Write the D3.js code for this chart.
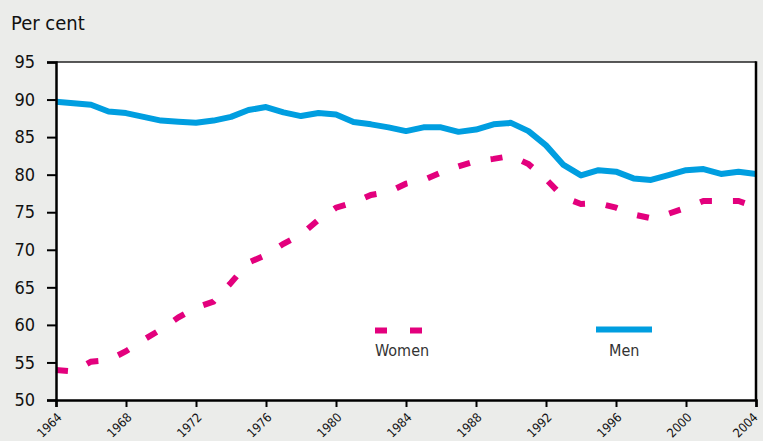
<!DOCTYPE html>
<html>
<head>
<meta charset="utf-8">
<script src="https://cdn.jsdelivr.net/npm/d3@7"></script>
<style>
  html, body { margin: 0; padding: 0; background: #ebecea; }
  svg { display: block; }
  text { font-family: "DejaVu Sans Condensed", "Roboto", sans-serif; }
</style>
</head>
<body>
<svg id="chart" width="763" height="441"></svg>
<script>
const years = d3.range(1964, 2005);
const men = [89.7, 89.5, 89.3, 88.4, 88.2, 87.7, 87.2, 87.05, 86.9, 87.2,
             87.7, 88.6, 89.0, 88.3, 87.8, 88.2, 88.0, 87.0, 86.7, 86.3,
             85.8, 86.3, 86.3, 85.7, 86.0, 86.7, 86.9, 85.8, 83.9, 81.3,
             79.9, 80.6, 80.4, 79.5, 79.3, 79.95, 80.6, 80.75, 80.1, 80.4, 80.1];
const women = [54.0, 53.8, 55.1, 55.3, 56.5, 58.0, 59.4, 61.0, 62.3, 63.1,
               65.6, 68.3, 69.3, 70.8, 72.0, 74.0, 75.6, 76.3, 77.3, 77.7,
               78.8, 79.3, 80.3, 81.1, 81.8, 82.1, 82.5, 81.4, 79.4, 77.0,
               76.1, 76.2, 75.6, 74.7, 74.2, 74.8, 75.6, 76.5, 76.5, 76.5, 75.7];
const yTicks = [50, 55, 60, 65, 70, 75, 80, 85, 90, 95];
const xTicks = [1964, 1968, 1972, 1976, 1980, 1984, 1988, 1992, 1996, 2000, 2004];
const seriesNames = ["Women", "Men"];
const colors = { Women: "#e3007d", Men: "#009ee0" };

const svg = d3.select("#chart");
const pLeft = 56, pRight = 756, pTop = 62, pBottom = 400;

const x = d3.scaleLinear().domain([1964, 2004]).range([pLeft, pRight]);
const y = d3.scaleLinear().domain([50, 95]).range([pBottom, pTop]);

// plot background
svg.append("rect").attr("x", pLeft).attr("y", pTop)
  .attr("width", pRight - pLeft).attr("height", pBottom - pTop).attr("fill", "#ffffff");

// title
svg.append("text").attr("x", 11).attr("y", 30)
  .attr("font-size", 20).attr("font-weight", 500).attr("fill", "#111").text("Per cent");

// lines
const line = d3.line().x((d, i) => x(years[i])).y(d => y(d));

svg.append("path").datum(women)
  .attr("d", line).attr("fill", "none")
  .attr("stroke", colors.Women).attr("stroke-width", 6)
  .attr("stroke-dasharray", "12,21");

svg.append("path").datum(men)
  .attr("d", line).attr("fill", "none")
  .attr("stroke", colors.Men).attr("stroke-width", 6)
  .attr("stroke-linejoin", "round");

// frame top/right
svg.append("line").attr("x1", pLeft).attr("x2", pRight).attr("y1", pTop).attr("y2", pTop)
  .attr("stroke", "#222").attr("stroke-width", 1.5);
svg.append("line").attr("x1", pRight).attr("x2", pRight).attr("y1", pTop - 0.75).attr("y2", pBottom)
  .attr("stroke", "#000").attr("stroke-width", 2.5);

// y axis
const yAxis = svg.append("g").attr("transform", `translate(${pLeft},0)`)
  .call(d3.axisLeft(y).tickValues(yTicks).tickSize(9).tickPadding(12).tickFormat(d3.format("d")));
yAxis.select(".domain").attr("stroke", "#000").attr("stroke-width", 2.5);
yAxis.selectAll(".tick line").attr("stroke", "#000").attr("stroke-width", 2);
yAxis.selectAll(".tick text").attr("font-size", 18).attr("fill", "#111")
  .attr("font-family", "'DejaVu Sans Condensed', sans-serif");

// x axis
const xAxis = svg.append("g").attr("transform", `translate(0,${pBottom})`)
  .call(d3.axisBottom(x).tickValues(xTicks).tickSize(7).tickFormat(d3.format("d")));
xAxis.select(".domain").attr("stroke", "#000").attr("stroke-width", 2.5);
xAxis.selectAll(".tick line").attr("stroke", "#000").attr("stroke-width", 2);
xAxis.selectAll(".tick text")
  .attr("font-size", 12.5).attr("fill", "#111")
  .attr("font-family", "'DejaVu Sans Condensed', sans-serif")
  .attr("text-anchor", "end")
  .attr("dy", "0.35em")
  .attr("transform", d => `translate(${d === 2004 ? -1 : 3},15) rotate(-45)`)
  .attr("y", 0).attr("x", 0);

// legend
const legend = [
  { name: seriesNames[0], x1: 375, x2: 422, ly: 330.5, tx: 375 },
  { name: seriesNames[1], x1: 596, x2: 652, ly: 329.5, tx: 609 }
];
legend.forEach(l => {
  const ln = svg.append("line").attr("x1", l.x1).attr("x2", l.x2)
    .attr("y1", l.ly).attr("y2", l.ly)
    .attr("stroke", colors[l.name]).attr("stroke-width", 6);
  if (l.name === "Women") ln.attr("stroke-dasharray", "12,23");
  svg.append("text").attr("x", l.tx).attr("y", 356)
    .attr("font-size", 16).attr("fill", "#333").text(l.name);
});
</script>
</body>
</html>
